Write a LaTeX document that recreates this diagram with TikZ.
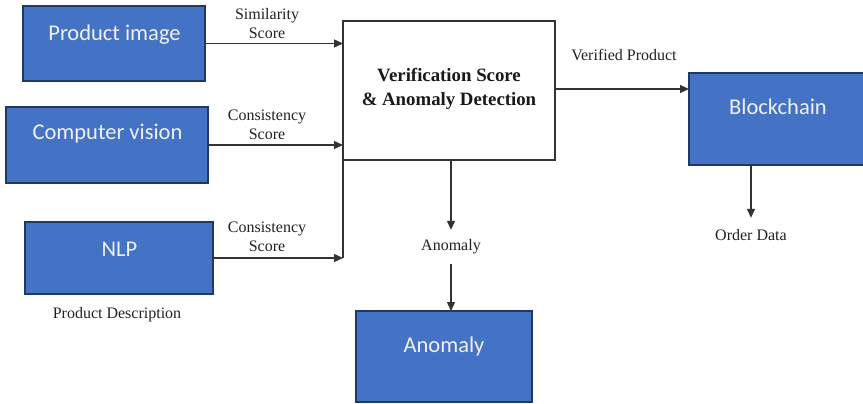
\documentclass[tikz,border=0pt]{standalone}
\usepackage{fontspec}
\setmainfont{Liberation Serif}
\newfontfamily\boxfont{Carlito}
\usetikzlibrary{arrows.meta,calc}
\definecolor{boxblue}{HTML}{4472C4}
\definecolor{boxedge}{HTML}{1F3864}
\definecolor{linegray}{HTML}{333333}
\definecolor{txtgray}{HTML}{222222}
\tikzset{
  bluebox/.style={draw=boxedge, line width=1.8pt, fill=boxblue, inner sep=0pt, outer sep=0pt},
  vbox/.style={draw=linegray, line width=1.5pt, fill=white, inner sep=0pt, outer sep=0pt},
  btext/.style={font=\boxfont\fontsize{22.5}{27}\selectfont, text=white!94!black, inner sep=0pt},
  lbl/.style={font=\fontsize{16}{19}\selectfont, text=txtgray, align=center, inner sep=0pt},
  conn/.style={draw=linegray, line width=1.4pt, -{Triangle[length=9pt,width=8pt]}},
  plainline/.style={draw=linegray, line width=1.4pt}
}
\begin{document}
\begin{tikzpicture}[x=1pt,y=-1pt]
\useasboundingbox (0,0) rectangle (863,404);
\fill[white] (0,0) rectangle (863,404);
% boxes
\node[bluebox, minimum width=182pt, minimum height=75pt] (pimg) at (114,43.5) {};
\node[bluebox, minimum width=202pt, minimum height=76pt] (cv) at (107,145) {};
\node[bluebox, minimum width=188pt, minimum height=72pt] (nlp) at (119,258) {};
\node[vbox, minimum width=212pt, minimum height=139pt] (ver) at (449,90.5) {};
\node[bluebox, minimum width=177pt, minimum height=92pt] (blk) at (777.5,119) {};
\node[bluebox, minimum width=176pt, minimum height=91pt] (anom) at (444,356.5) {};
% box texts
\node[btext] (pimgt) at (114.5,35) {Product image};
\node[btext] (cvt) at (107.5,134) {Computer vision};
\node[btext] (nlpt) at (119.5,249) {NLP};
\node[btext] (blkt) at (778,107) {Blockchain};
\node[btext] (anomt) at (444,346) {Anomaly};
\node[lbl, font=\bfseries\fontsize{18.8}{24}\selectfont, text=black!90] (vert) at (449,89) {Verification Score\\ \& Anomaly Detection};
% labels
\node[lbl] (l1) at (267,23.5) {Similarity\\Score};
\node[lbl] (l2) at (267,124.5) {Consistency\\Score};
\node[lbl] (l3) at (267,236.5) {Consistency\\Score};
\node[lbl] (pd) at (117,314.5) {Product Description};
\node[lbl] (vp) at (624,55) {Verified Product};
\node[lbl, minimum height=34pt] (alab) at (451,247) {Anomaly};
\node[lbl, minimum height=34pt] (od) at (751,235) {Order Data};
% connectors
\draw[conn] (pimg.east) -- (ver.west |- pimg.east);
\draw[conn] (cv.east) -- (ver.west |- cv.east);
\draw[plainline] (ver.south west) -- (ver.south west |- nlp.east);
\draw[conn] (nlp.east) -- (ver.south west |- nlp.east);
\draw[conn] (ver.south -| alab.north) -- (alab.north);
\draw[conn] (alab.south) -- (alab.south |- anom.north);
\draw[conn] ([yshift=1.5pt]ver.east) -- ([yshift=1.5pt]ver.east -| blk.west);
\draw[conn] (blk.south -| od.north) -- (od.north);
\end{tikzpicture}
\end{document}
